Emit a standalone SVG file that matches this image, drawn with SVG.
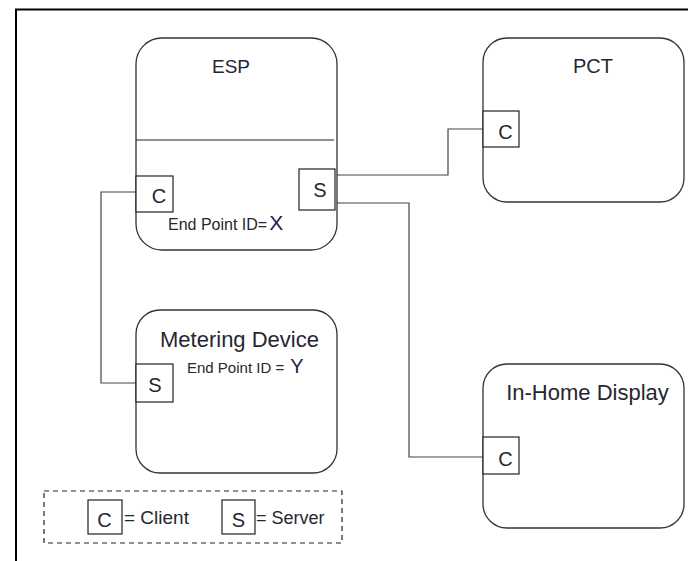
<svg xmlns="http://www.w3.org/2000/svg" width="688" height="561" viewBox="0 0 688 561">
<style>
.node{fill:#fff;stroke:#333;stroke-width:1.3}
.port{fill:#fff;stroke:#222;stroke-width:1.2}
.t{font-family:"Liberation Sans",Arial,sans-serif;fill:#262630}
.p{font-family:"Liberation Sans",Arial,sans-serif;fill:#262630;font-size:20px;text-anchor:middle}
.v{fill:#22224f}
.conn{fill:none;stroke:#444;stroke-width:1.2}
</style>
<rect width="688" height="561" fill="#fff"/>
<g id="frame">
<line x1="15" y1="9.5" x2="688" y2="9.5" stroke="#000" stroke-width="2"/>
<line x1="16" y1="9" x2="16" y2="561" stroke="#000" stroke-width="2"/>
</g>
<g id="connectors">
<polyline class="conn" points="136,192 101,192 101,383 136,383"/>
<polyline class="conn" points="335,175 448,175 448,129 483,129"/>
<polyline class="conn" points="335,203 409,203 409,457 483,457"/>
</g>
<g id="esp">
<rect class="node" x="136" y="38" width="201" height="212" rx="26"/>
<line x1="136" y1="140" x2="334" y2="140" stroke="#222" stroke-width="1.2"/>
<text class="t" x="231" y="73" font-size="19" text-anchor="middle">ESP</text>
<rect class="port" x="136" y="176" width="37" height="36"/>
<text class="p" x="159" y="203">C</text>
<rect class="port" x="299" y="169" width="36" height="41"/>
<text class="p" x="320" y="197">S</text>
<text class="t" x="168" y="230" font-size="16">End Point ID=<tspan class="v" font-size="21" dx="2">X</tspan></text>
</g>
<g id="pct">
<rect class="node" x="483" y="38" width="201" height="164" rx="24"/>
<text class="t" x="593" y="73" font-size="20" text-anchor="middle">PCT</text>
<rect class="port" x="483" y="111" width="36" height="36"/>
<text class="p" x="505.5" y="139">C</text>
</g>
<g id="metering">
<rect class="node" x="136" y="310" width="201" height="163" rx="24"/>
<text class="t" x="239.5" y="347" font-size="22" text-anchor="middle">Metering Device</text>
<text class="t" x="187" y="373" font-size="15">End Point ID = <tspan class="v" font-size="20" dx="2">Y</tspan></text>
<rect class="port" x="136" y="364" width="37" height="38"/>
<text class="p" x="155" y="392">S</text>
</g>
<g id="ihd">
<rect class="node" x="483" y="364" width="201" height="164" rx="24"/>
<text class="t" x="587.5" y="400" font-size="22" text-anchor="middle">In-Home Display</text>
<rect class="port" x="483" y="437" width="36" height="37"/>
<text class="p" x="505.5" y="466">C</text>
</g>
<g id="legend">
<rect x="44" y="491" width="298" height="52" fill="none" stroke="#222" stroke-width="1.2" stroke-dasharray="5,4"/>
<rect class="port" x="88" y="500" width="34" height="34"/>
<text class="p" x="104.5" y="527">C</text>
<text class="t" x="124" y="524" font-size="19">= Client</text>
<rect class="port" x="222" y="500" width="33" height="34"/>
<text class="p" x="238.5" y="527">S</text>
<text class="t" x="256" y="524" font-size="18">= Server</text>
</g>
</svg>
